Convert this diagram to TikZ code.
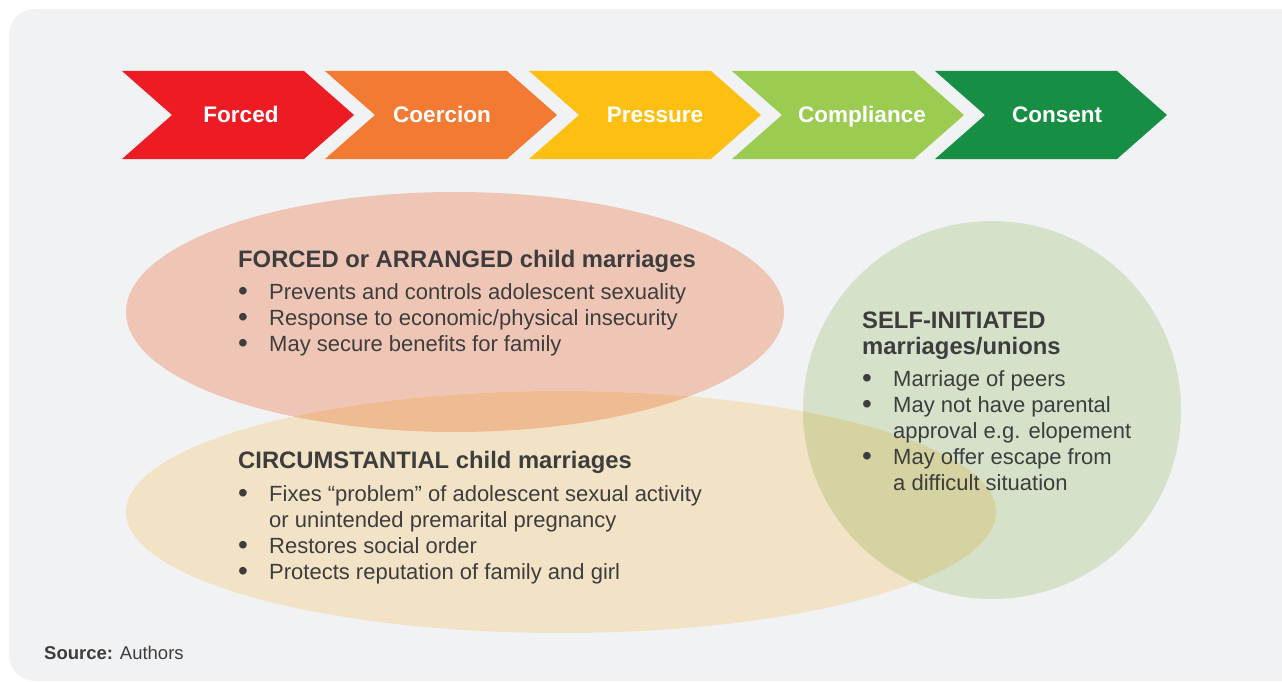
\documentclass[tikz,border=0pt]{standalone}
\usepackage{fontspec}
\setmainfont{Liberation Sans}
\usetikzlibrary{positioning}
\definecolor{panelgray}{HTML}{F1F2F4}
\definecolor{cForced}{HTML}{ED1C24}
\definecolor{cCoercion}{HTML}{F37A32}
\definecolor{cPressure}{HTML}{FDC012}
\definecolor{cCompliance}{HTML}{9BCB50}
\definecolor{cConsent}{HTML}{168F45}
\definecolor{forcedfill}{HTML}{EFC6B6}
\definecolor{circfill}{HTML}{F2E3C6}
\definecolor{selffill}{HTML}{D5E1C9}
\definecolor{fcfill}{HTML}{EEBB93}
\definecolor{csfill}{HTML}{D5D3A2}
\definecolor{txtgray}{HTML}{3D3D3D}
\newcommand{\itm}[1]{\makebox[31pt][l]{\raisebox{-1.5pt}{\fontsize{28}{26}\selectfont\textbullet}}#1}

\begin{document}
\begin{tikzpicture} [x=1pt, y=-1pt,
  stage/.style={anchor=base, text=white, inner sep=0pt, font=\fontsize{22.5}{24}\selectfont\bfseries},
  head/.style={anchor=base west, text=txtgray, inner sep=0pt, font=\fontsize{23.8}{26}\selectfont\bfseries},
  item/.style={anchor=base west, text=txtgray, inner sep=0pt, font=\fontsize{22}{26}\selectfont}]
\useasboundingbox (0,0) rectangle (1282,682);
\fill[panelgray, rounded corners=26pt] (9,9) rectangle (1310,681);

\foreach \x/\lx/\name/\lab/\col in {122/241/forced/Forced/cForced, 325/442/coercion/Coercion/cCoercion,
    529/655/pressure/Pressure/cPressure, 732/862/compliance/Compliance/cCompliance, 935/1057/consent/Consent/cConsent} {
  \fill[\col] (\x,71) -- ++(182,0) -- ++(50,44) -- ++(-50,44) -- ++(-182,0) -- ++(50,-44) -- cycle;
  \node[stage] (\name) at (\lx,123) {\lab};
}

\fill[forcedfill] (455,312) ellipse [x radius=329pt, y radius=120pt];
\fill[circfill] (561,512) ellipse [x radius=435pt, y radius=121pt];
\fill[selffill] (992,410) circle [radius=189pt];
\begin{scope}
  \clip (455,312) ellipse [x radius=329pt, y radius=120pt];
  \fill[fcfill] (561,512) ellipse [x radius=435pt, y radius=121pt];
\end{scope}
\begin{scope}
  \clip (992,410) circle [radius=189pt];
  \fill[csfill] (561,512) ellipse [x radius=435pt, y radius=121pt];
\end{scope}

\path (238,267.5) node[head] (fhead) {FORCED or ARRANGED child marriages}
      (238,299) node[item] (f1) {\itm{Prevents and controls adolescent sexuality}}
      (238,325) node[item] (f2) {\itm{Response to economic/physical insecurity}}
      (238,351) node[item] (f3) {\itm{May secure benefits for family}};

\path (238,468.5) node[head] (chead) {CIRCUMSTANTIAL child marriages}
      (238,501) node[item] (c1) {\itm{Fixes “problem” of adolescent sexual activity}}
      (269,527) node[item] (c1b) {or unintended premarital pregnancy}
      (238,553) node[item] (c2) {\itm{Restores social order}}
      (238,579) node[item] (c3) {\itm{Protects reputation of family and girl}};

\path (862,328) node[head] (shead) {SELF-INITIATED}
      (862,354) node[head] (shead2) {marriages/unions}
      (862,386) node[item] (s1) {\itm{Marriage of peers}}
      (862,412) node[item] (s2) {\itm{May not have parental}}
      (893,438) node[item] (s2b) {approval e.g. elopement}
      (862,464) node[item] (s3) {\itm{May offer escape from}}
      (893,490) node[item] (s3b) {a difficult situation};

\node[anchor=base west, text=txtgray, inner sep=0pt, font=\fontsize{18.5}{20}\selectfont] (source) at (44,659.5) {\textbf{Source:} Authors};
\end{tikzpicture}
\end{document}
